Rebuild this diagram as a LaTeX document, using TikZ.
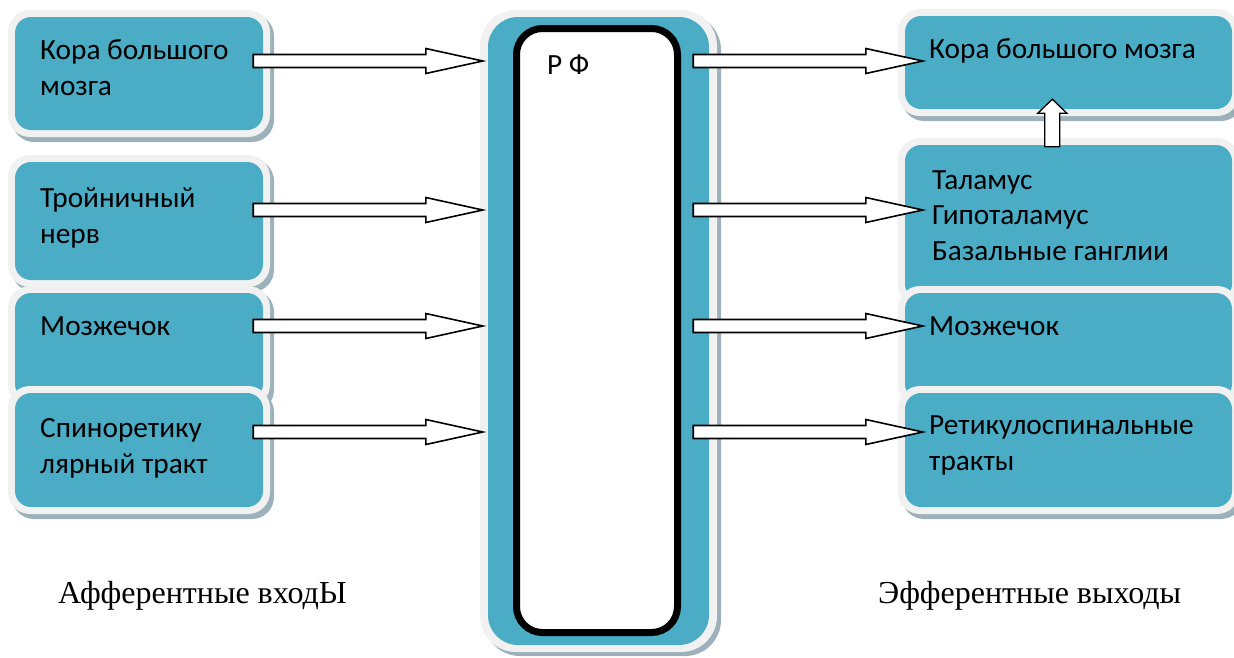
\documentclass[tikz,border=0pt]{standalone}
\usepackage{fontspec}
\setmainfont{Carlito}
\newfontfamily\captionfont{Liberation Serif}
\usetikzlibrary{calc,fit}

\definecolor{panelteal}{HTML}{4BACC6}
\definecolor{panelrim}{HTML}{F1F1F1}
\definecolor{panelshade}{HTML}{9DB1BA}

\tikzset{
  tealbox/.style={fill=panelteal, draw=none, inner sep=0pt, rounded corners=16pt},
  rimbox/.style={fill=panelrim, draw=none, rounded corners=22pt},
  shadebox/.style={fill=panelshade, draw=none, rounded corners=22pt},
  label/.style={anchor=base west, align=left, inner sep=0pt,
    font=\fontsize{29.3}{36}\selectfont},
  caption/.style={anchor=base west, inner sep=0pt,
    font=\captionfont\fontsize{32}{36}\selectfont},
  blockarrow/.style={fill=white, draw=black, line width=1.6pt, line join=miter}
}

% teal panel with a light rim and a soft shadow: name, x1, y1, x2, y2
\newcommand{\panel}[5]{%
  \fill[shadebox] (#2-3,#3-3) rectangle (#4+11,#5+12);
  \fill[rimbox] (#2-7,#3-7) rectangle (#4+7,#5+7);
  \node[tealbox, fit={(#2,#3) (#4,#5)}] (#1) {};
}

% horizontal block arrow from coordinate #1 to coordinate #2
\newcommand{\harrow}[2]{%
  \draw[blockarrow] let \p1=(#1), \p2=(#2) in
    (\x1,\y1+6.5pt) -- (\x2-57pt,\y1+6.5pt) -- (\x2-57pt,\y1+12.5pt) --
    (\x2,\y1) -- (\x2-57pt,\y1-12.5pt) -- (\x2-57pt,\y1-6.5pt) --
    (\x1,\y1-6.5pt) -- cycle;
}

\begin{document}
\begin{tikzpicture}[x=1pt, y=-1pt]
\useasboundingbox (0,0) rectangle (1234,657);

% afferent inputs
\panel{L1}{15}{17}{263}{130}
\panel{L2}{15}{162}{263}{280}
\panel{L3}{15}{293}{263}{400}
\panel{L4}{15}{393}{263}{507}

% efferent outputs
\panel{R1}{905}{16}{1232}{109}
\panel{R2}{905}{145}{1232}{300}
\panel{R3}{905}{293}{1232}{400}
\panel{R4}{905}{393}{1232}{507}

% reticular formation column
\fill[shadebox, rounded corners=36pt] (484,14) rectangle (721,656);
\fill[rimbox, rounded corners=36pt] (480,10) rectangle (717,652);
\node[tealbox, rounded corners=30pt, fit={(488,17) (709,645)}] (RF) {};
\node[fill=white, draw=black, line width=7pt, rounded corners=26pt,
      inner sep=0pt, fit={(516.5,28.5) (677.5,632.5)}] (RFcore) {};
\node[label] (RFtext) at (547,74) {Р Ф};

% labels (a multi-line node sits on the baseline of its last line)
\node[label] (tL1) at (40,95) {Кора большого\\мозга};
\node[label] (tL2) at (40,243) {Тройничный\\нерв};
\node[label] (tL3) at (40,335) {Мозжечок};
\node[label] (tL4) at (40,473) {Спиноретику\\лярный тракт};

\node[label] (tR1) at (929,58) {Кора большого мозга};
\node[label, font=\fontsize{29.3}{35.5}\selectfont] (tR2) at (932,260)
  {Таламус\\Гипоталамус\\Базальные ганглии};
\node[label] (tR3) at (929,335) {Мозжечок};
\node[label] (tR4) at (929,470) {Ретикулоспинальные\\тракты};

\node[caption] (capIn) at (58,603) {Афферентные входЫ};
\node[caption] (capOut) at (878,603) {Эфферентные выходы};

% arrow end points
\coordinate (a1s) at ($(L1.east)+(-10,-12.5)$);
\coordinate (a2s) at ($(L2.east)+(-10,-11)$);
\coordinate (a3s) at ($(L3.east)+(-10,-20.5)$);
\coordinate (a4s) at ($(L4.east)+(-10,-18)$);
\coordinate (a1e) at (RF.west |- a1s);
\coordinate (a2e) at (RF.west |- a2s);
\coordinate (a3e) at (RF.west |- a3s);
\coordinate (a4e) at (RF.west |- a4s);

\coordinate (b1s) at ($(RF.east |- a1s)+(-16,0)$);
\coordinate (b2s) at ($(RF.east |- a2s)+(-16,0)$);
\coordinate (b3s) at ($(RF.east |- a3s)+(-16,0)$);
\coordinate (b4s) at ($(RF.east |- a4s)+(-16,0)$);
\coordinate (b1e) at ($(R1.west |- a1s)+(18,0)$);
\coordinate (b2e) at ($(R2.west |- a2s)+(18,0)$);
\coordinate (b3e) at ($(R3.west |- a3s)+(18,0)$);
\coordinate (b4e) at ($(R4.west |- a4s)+(18,0)$);

% afferent arrows
\harrow{a1s}{$(a1e)+(-5,0)$}
\harrow{a2s}{$(a2e)+(-5,0)$}
\harrow{a3s}{$(a3e)+(-5,0)$}
\harrow{a4s}{$(a4e)+(-5,0)$}

% efferent arrows
\harrow{b1s}{b1e}
\harrow{b2s}{b2e}
\harrow{b3s}{b3e}
\harrow{b4s}{b4e}

% thalamus group up to the cortex
\coordinate (us) at ($(R2.north west)+(147.5,2)$);
\coordinate (ue) at ($(R1.south west)+(147.5,-10)$);
\draw[blockarrow, line width=1.3pt] let \p1=(us), \p2=(ue) in
  (\x1-7.5pt,\y1) -- (\x1-7.5pt,\y2-14pt) -- (\x1-14.5pt,\y2-14pt) --
  (\x1,\y2) -- (\x1+14.5pt,\y2-14pt) -- (\x1+7.5pt,\y2-14pt) --
  (\x1+7.5pt,\y1) -- cycle;
\end{tikzpicture}
\end{document}
